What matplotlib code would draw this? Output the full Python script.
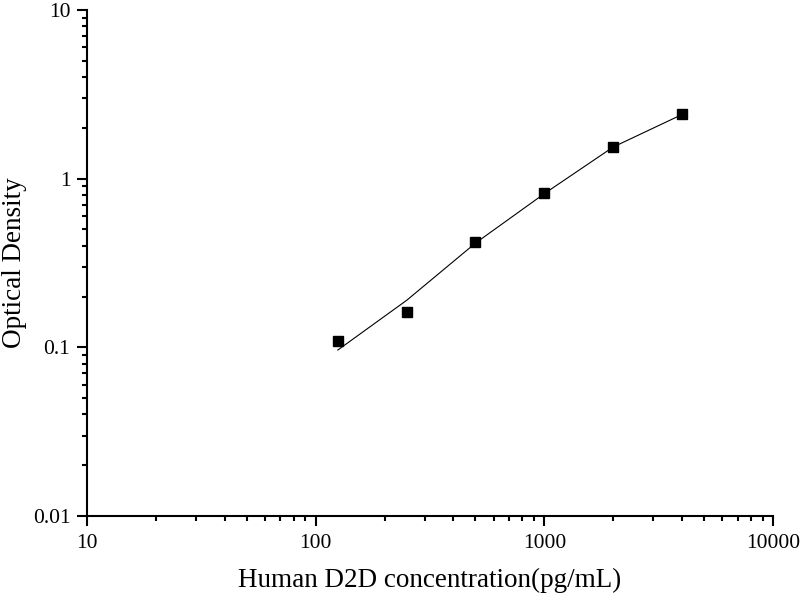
import matplotlib
matplotlib.use("Agg")
import matplotlib.pyplot as plt
from matplotlib.ticker import LogLocator, FixedLocator, FixedFormatter, NullFormatter

plt.rcParams['font.family'] = ['Liberation Serif', 'DejaVu Serif']

# data
conc = [125, 250, 500, 1000, 2000, 4000]
od = [0.109, 0.161, 0.419, 0.819, 1.535, 2.408]
# fitted curve
fit_conc = [125, 250, 500, 1000, 2000, 4000]
fit_od = [0.0964, 0.190, 0.415, 0.815, 1.54, 2.40]

x_ticks = [10, 100, 1000, 10000]
x_tick_labels = ['10', '100', '1000', '10000']
y_ticks = [0.01, 0.1, 1, 10]
y_tick_labels = ['0.01', '0.1', '1', '10']

fig = plt.figure(figsize=(8, 6), dpi=100)
ax = fig.add_axes([87/800, 1 - 516/600, (773-87)/800, (516-10)/600])

ax.plot(fit_conc, fit_od, color='black', lw=0.8, zorder=2)
ax.plot(conc, od, linestyle='none', marker='s', ms=6.8, color='black', zorder=3)

ax.set_xscale('log')
ax.set_yscale('log')
ax.set_xlim(10, 10000)
ax.set_ylim(0.01, 10)

ax.xaxis.set_major_locator(FixedLocator(x_ticks))
ax.xaxis.set_major_formatter(FixedFormatter(x_tick_labels))
ax.yaxis.set_major_locator(FixedLocator(y_ticks))
ax.yaxis.set_major_formatter(FixedFormatter(y_tick_labels))
ax.xaxis.set_minor_locator(LogLocator(base=10, subs=range(2, 10), numticks=20))
ax.yaxis.set_minor_locator(LogLocator(base=10, subs=range(2, 10), numticks=20))
ax.xaxis.set_minor_formatter(NullFormatter())
ax.yaxis.set_minor_formatter(NullFormatter())

for s in ['top', 'right']:
    ax.spines[s].set_visible(False)
for s in ['left', 'bottom']:
    ax.spines[s].set_linewidth(1.5)

ax.tick_params(which='major', direction='out', length=7, width=1.5, labelsize=15.5)
ax.tick_params(axis='x', which='major', pad=6)
ax.tick_params(axis='y', which='major', pad=5)
ax.tick_params(which='minor', direction='out', length=3.3, width=1.5)

ax.set_xlabel('Human D2D concentration(pg/mL)', fontsize=19.5, labelpad=11)
ax.set_ylabel('Optical Density', fontsize=19.5, labelpad=4)

fig.savefig('out.png', dpi=100)
